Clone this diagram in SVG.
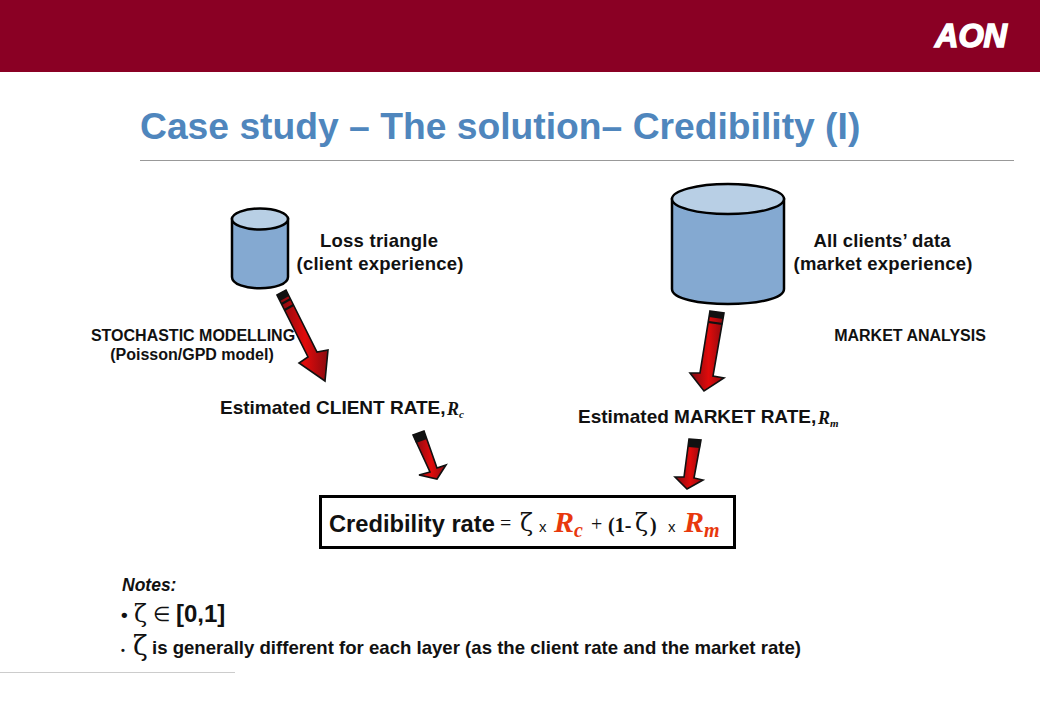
<svg xmlns="http://www.w3.org/2000/svg" width="1040" height="720" viewBox="0 0 1040 720">
<style>
text{font-family:"Liberation Sans",Arial,sans-serif;fill:#111}
.b{font-weight:bold}
.m{text-anchor:middle}
.l{font-size:18.500px;font-weight:bold}
.s{font-size:16px;font-weight:bold}
.e{font-size:19px;font-weight:bold}
.v{font-family:"Liberation Serif","Times New Roman",serif;font-style:italic;font-weight:bold}
.g{font-family:"Liberation Serif","Times New Roman",serif}
.z{font-family:"DejaVu Serif",serif}
.o{fill:#e8380d}
.cyl{fill:#84a9d1;stroke:#000;stroke-width:2.500}
.top{fill:#b8cfe5;stroke:#000;stroke-width:2.500}
.arr{fill:url(#red);stroke:#111;stroke-width:1.600;stroke-linejoin:miter}
.band{fill:#111}
</style>
<defs>
<linearGradient id="red" x1="0" y1="0" x2="1" y2="0">
<stop offset="0" stop-color="#7c0a12"/><stop offset="0.550" stop-color="#e00b0b"/><stop offset="1" stop-color="#8a0a10"/>
</linearGradient>
</defs>
<rect width="1040" height="720" fill="#fff"/>
<rect id="banner" width="1040" height="72" fill="#8a0024"/>
<text id="logo" x="971" y="47" class="m b" font-size="34" font-style="italic" textLength="72" lengthAdjust="spacingAndGlyphs" style="fill:#fff;stroke:#fff;stroke-width:1.600">AON</text>
<text id="title" x="140" y="139" class="b" font-size="37.250" style="fill:#4f86bd">Case study – The solution– Credibility (I)</text>
<line x1="140" y1="160.500" x2="1014" y2="160.500" stroke="#999" stroke-width="1"/>

<g id="client-db">
<path class="cyl" d="M232 219V277C232 292 288 292 288 277V219Z"/>
<ellipse class="top" cx="260" cy="219" rx="28" ry="10.500"/>
</g>
<g id="market-db">
<path class="cyl" d="M672 199V289C672 309 784 309 784 289V199Z"/>
<ellipse class="top" cx="728" cy="199" rx="56" ry="15"/>
</g>

<g id="connectors">
<g id="arrow-1">
<polygon class="arr" points="277,295 286,290 317,352 328,350 325,381 299,363 308,357"/>
<polygon class="band" points="277,295 286,290 289,296 280,301"/>
<polygon class="band" points="281,303 290,298 291,300 282,305"/>
<polygon class="band" points="284,309 293,304 294,306 285,311"/>
</g>
<g id="arrow-2">
<polygon class="arr" points="710,311 724,313 713,376 724,378 704,391 690,373 700,373"/>
<polygon class="band" points="710,311 724,313 723,319 709,317"/>
<polygon class="band" points="709,321 723,323 722,325 708,323"/>
</g>
<g id="arrow-3">
<polygon class="arr" points="413,435 424,431 437,468 446,465 437,479 419,475 430,472"/>
<polygon class="band" points="413,435 424,431 427,439 416,443"/>
</g>
<g id="arrow-4">
<polygon class="arr" points="689,439 701,440 694,478 703,480 687,489 675,477 684,477"/>
<polygon class="band" points="689,439 701,440 700,448 688,447"/>
</g>
</g>

<g id="loss-triangle-label">
<text x="379" y="247" class="l m" textLength="118">Loss triangle</text>
<text x="380" y="270" class="l m" textLength="167">(client experience)</text>
</g>
<g id="all-clients-label">
<text x="882" y="247" class="l m" textLength="137">All clients’ data</text>
<text x="883" y="270" class="l m" textLength="179">(market experience)</text>
</g>
<g id="stochastic-label">
<text x="193" y="341" class="s m">STOCHASTIC MODELLING</text>
<text x="192" y="360" class="s m">(Poisson/GPD model)</text>
</g>
<text id="market-analysis-label" x="910" y="341" class="s m">MARKET ANALYSIS</text>

<text id="client-rate" x="220" y="414" class="e">Estimated CLIENT RATE,</text>
<text x="447" y="415" class="v" font-size="18">R<tspan font-size="11" dy="3">c</tspan></text>
<text id="market-rate" x="578" y="423" class="e">Estimated MARKET RATE,</text>
<text x="818" y="424" class="v" font-size="18">R<tspan font-size="11" dy="3">m</tspan></text>

<g id="credibility-box">
<rect x="320.500" y="496.500" width="414" height="51" fill="#fff" stroke="#000" stroke-width="3"/>
<text x="329" y="532" class="b" font-size="23.700">Credibility rate</text>
<text x="500" y="530" class="g" font-size="20">=</text>
<text x="520" y="531" class="z" font-size="24">ζ</text>
<text x="539" y="532" font-size="15">x</text>
<text x="554" y="532" class="v o" font-size="30">R<tspan font-size="20" dy="5">c</tspan></text>
<text x="591" y="531" class="g" font-size="20">+</text>
<text x="608" y="532" class="g b" font-size="20">(1-</text>
<text x="635" y="531" class="z" font-size="24">ζ</text>
<text x="650" y="532" class="g b" font-size="20">)</text>
<text x="668" y="532" font-size="15">x</text>
<text x="684" y="532" class="v o" font-size="30">R<tspan font-size="20" dy="5">m</tspan></text>
</g>

<g id="notes">
<text x="122" y="591" font-size="17.500" font-weight="bold" font-style="italic">Notes:</text>
<text x="121" y="621" class="b" font-size="19">•</text>
<text x="134" y="622" class="z" font-size="24">ζ</text>
<text x="153" y="621" class="g" font-size="20">∈</text>
<text x="176" y="622" class="b" font-size="24">[0,1]</text>
<text x="121" y="654" class="b" font-size="11">•</text>
<text x="133" y="655" class="z" font-size="27">ζ</text>
<text x="152" y="654" font-size="18.600" font-weight="bold">is generally different for each layer (as the client rate and the market rate)</text>
</g>
<line x1="0" y1="672.500" x2="235" y2="672.500" stroke="#ccc" stroke-width="1"/>
</svg>
